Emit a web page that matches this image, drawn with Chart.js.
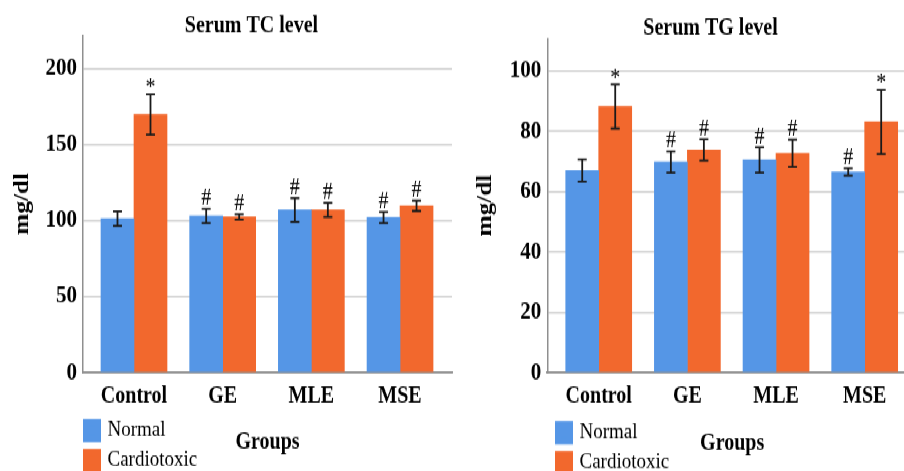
<!DOCTYPE html>
<html><head><meta charset="utf-8">
<script src="https://cdn.jsdelivr.net/npm/chart.js@4.4.1/dist/chart.umd.min.js"></script>
<style>
html,body{margin:0;padding:0;background:#fff;overflow:hidden;width:904px;height:471px}
#wrap{position:absolute;left:0;top:0;width:920px;height:430px;transform:scaleY(1.15);transform-origin:0 0}
canvas{position:absolute;top:0}
</style></head><body>
<div id="wrap"><canvas id="tc" width="460" height="420" style="left:0"></canvas><canvas id="tg" width="460" height="422" style="left:460px"></canvas></div>
<script>
// ---- data ----
const groups = ['Control', 'GE', 'MLE', 'MSE'];
const seriesNames = ['Normal', 'Cardiotoxic'];
const tcNormal = [101.3, 103.1, 107.0, 102.0];
const tcNormalErr = [4.7, 4.6, 7.8, 3.6];
const tcCardio = [169.7, 102.4, 107.0, 109.7];
const tcCardioErr = [13.2, 1.7, 4.6, 3.4];
const tgNormal = [67.0, 69.8, 70.5, 66.5];
const tgNormalErr = [3.7, 3.5, 4.2, 1.2];
const tgCardio = [88.2, 73.8, 72.7, 83.1];
const tgCardioErr = [7.3, 3.5, 4.5, 10.6];
const tcNormalMarks = ['', '#', '#', '#'];
const tcCardioMarks = ['*', '#', '#', '#'];
const tgNormalMarks = ['', '#', '#', '#'];
const tgCardioMarks = ['*', '#', '#', '*'];
const tcTicks = [0, 50, 100, 150, 200];
const tgTicks = [0, 20, 40, 60, 80, 100];

// ---- style ----
const S = 1.15;
const BLUE = '#5596e6', ORANGE = '#f2682d';
const FAMILY = "'Liberation Serif', 'Times New Roman', serif";
Chart.defaults.font.family = FAMILY;
Chart.defaults.color = '#000';

const layoutFix = {
  id: 'layoutFix',
  afterInit(chart, args, opts) {
    const lg = chart.legend;
    const fit = lg.fit;
    lg.fit = function () { this.maxWidth = opts.legendWidth; fit.call(this); };
  },
  afterLayout(chart, args, opts) {
    const lg = chart.legend;
    lg.left = opts.legendLeft; lg.right = opts.legendLeft + opts.legendWidth; lg.width = opts.legendWidth;
    const tb = chart.titleBlock;
    tb.left = opts.titleCx - 150; tb.right = opts.titleCx + 150; tb.width = 300;
  }
};

const errorBars = {
  id: 'errorBars',
  afterDatasetsDraw(chart, args, opts) {
    const ctx = chart.ctx, ys = chart.scales.y;
    chart.data.datasets.forEach((ds, di) => {
      const meta = chart.getDatasetMeta(di);
      meta.data.forEach((bar, i) => {
        const v = ds.data[i].y, e = opts.errors[di][i];
        const yt = ys.getPixelForValue(v + e), yb = ys.getPixelForValue(v - e);
        ctx.save();
        ctx.strokeStyle = '#1a1a1a'; ctx.lineWidth = 1.8;
        ctx.beginPath();
        ctx.moveTo(bar.x, yt); ctx.lineTo(bar.x, yb);
        ctx.moveTo(bar.x - 4.5, yt); ctx.lineTo(bar.x + 4.5, yt);
        ctx.moveTo(bar.x - 4.5, yb); ctx.lineTo(bar.x + 4.5, yb);
        ctx.stroke();
        const m = opts.marks[di][i];
        if (m) {
          ctx.fillStyle = '#000';
          ctx.font = "20px " + FAMILY;
          ctx.textAlign = 'center'; ctx.textBaseline = 'middle';
          ctx.fillText(m, bar.x, m === '*' ? yt - 5 : yt - 8.7);
        }
        ctx.restore();
      });
    });
  }
};

const STROKE = 6;
function legendLabels(chart) {
  return Chart.defaults.plugins.legend.labels.generateLabels(chart).map(it =>
    Object.assign(it, { lineWidth: STROKE, strokeStyle: it.fillStyle }));
}

function makeChart(id, L) {
  const canvas = document.getElementById(id);
  const H = canvas.height;
  const fontSize = 19, boxH = 20.35 - STROKE, legPad = 26.1 - fontSize;
  const legendH = 2 * (Math.max(fontSize, boxH) + legPad) + 10;
  const legendTop = H - legendH;
  const xH = legendTop - L.plotBottom;
  const titlePt = L.titleCy - 10;
  const titlePb = L.plotTop - titlePt - 20;
  return new Chart(canvas, {
    type: 'bar',
    data: {
      datasets: [
        { label: seriesNames[0], data: L.a.map((v, i) => ({ x: i, y: v })), backgroundColor: BLUE, borderWidth: 0, barThickness: 33 },
        { label: seriesNames[1], data: L.b.map((v, i) => ({ x: i, y: v })), backgroundColor: ORANGE, borderWidth: 0, barThickness: 33 }
      ]
    },
    options: {
      responsive: false, animation: false, devicePixelRatio: 1, events: [],
      layout: { padding: { left: 0, right: L.padRight, top: 0, bottom: 0 } },
      scales: {
        x: {
          type: 'linear', offset: false, min: L.xMin, max: L.xMax,
          afterBuildTicks: s => { s.ticks = groups.map((g, i) => ({ value: i })); },
          afterFit: s => { s.height = xH; },
          ticks: { autoSkip: false, maxRotation: 0, padding: L.tickLabelCy - L.plotBottom - 19,
                   font: { family: FAMILY, size: 20, weight: 'bold' }, color: '#000', callback: v => groups[v] },
          grid: { display: false },
          border: { display: true, color: '#8f8f8f', width: 2 / S },
          title: { display: true, text: 'Groups', font: { family: FAMILY, size: 20, weight: 'bold', lineHeight: 1.2 }, color: '#000',
                   padding: { top: 0, bottom: legendTop - 12 - L.groupsCy } }
        },
        y: {
          min: 0, max: L.yMax,
          afterBuildTicks: s => { s.ticks = s.ticks.filter(t => L.ticks.includes(t.value)); },
          afterFit: s => { s.width = L.yAxisW; },
          ticks: { stepSize: L.ticks[1] - L.ticks[0], padding: 6, font: { family: FAMILY, size: 21, weight: 'bold' }, color: '#000' },
          grid: { color: '#d5d5d5', lineWidth: 1.7, drawTicks: false },
          border: { display: true, color: '#8f8f8f', width: 1.5 },
          title: { display: true, text: 'mg/dl', font: { family: FAMILY, size: 22, weight: 'bold', lineHeight: 1.2 }, color: '#000',
                   padding: { top: L.yTitleCx - 13.2, bottom: 0 } }
        }
      },
      plugins: {
        tooltip: { enabled: false },
        title: { display: true, text: L.title, font: { family: FAMILY, size: 20, weight: 'bold', lineHeight: 1 }, color: '#000',
                 padding: { top: titlePt, bottom: titlePb } },
        legend: {
          display: true, position: 'bottom', align: 'start',
          labels: { boxWidth: 18 - STROKE, boxHeight: boxH, padding: legPad, color: '#000',
                    font: { family: FAMILY, size: fontSize, weight: 'normal' }, generateLabels: legendLabels }
        },
        layoutFix: { legendLeft: L.legendBoxX + STROKE / 2 - legPad, legendWidth: 170, titleCx: L.titleCx },
        errorBars: { errors: L.errs, marks: L.marks }
      }
    },
    plugins: [layoutFix, errorBars]
  });
}

makeChart('tc', {
  title: 'Serum TC level', a: tcNormal, b: tcCardio, errs: [tcNormalErr, tcCardioErr], marks: [tcNormalMarks, tcCardioMarks],
  ticks: tcTicks, yMax: 222, xMin: -0.575, xMax: 3.586, yAxisW: 83, padRight: 8,
  titleCx: 251.5, titleCy: 26.7 / S, plotTop: 35 / S, plotBottom: 372.7 / S,
  legendBoxX: 83, tickLabelCy: 395.7 / S, groupsCy: 443 / S, yTitleCx: 22.5
});
makeChart('tg', {
  title: 'Serum TG level', a: tgNormal, b: tgCardio, errs: [tgNormalErr, tgCardioErr], marks: [tgNormalMarks, tgCardioMarks],
  ticks: tgTicks, yMax: 110.8, xMin: -0.58, xMax: 3.59, yAxisW: 87.3, padRight: 3,
  titleCx: 250.5, titleCy: 28.3 / S, plotTop: 38.3 / S, plotBottom: 372.7 / S,
  legendBoxX: 95, tickLabelCy: 395 / S, groupsCy: 443.3 / S, yTitleCx: 25
});
</script>
</body></html>
